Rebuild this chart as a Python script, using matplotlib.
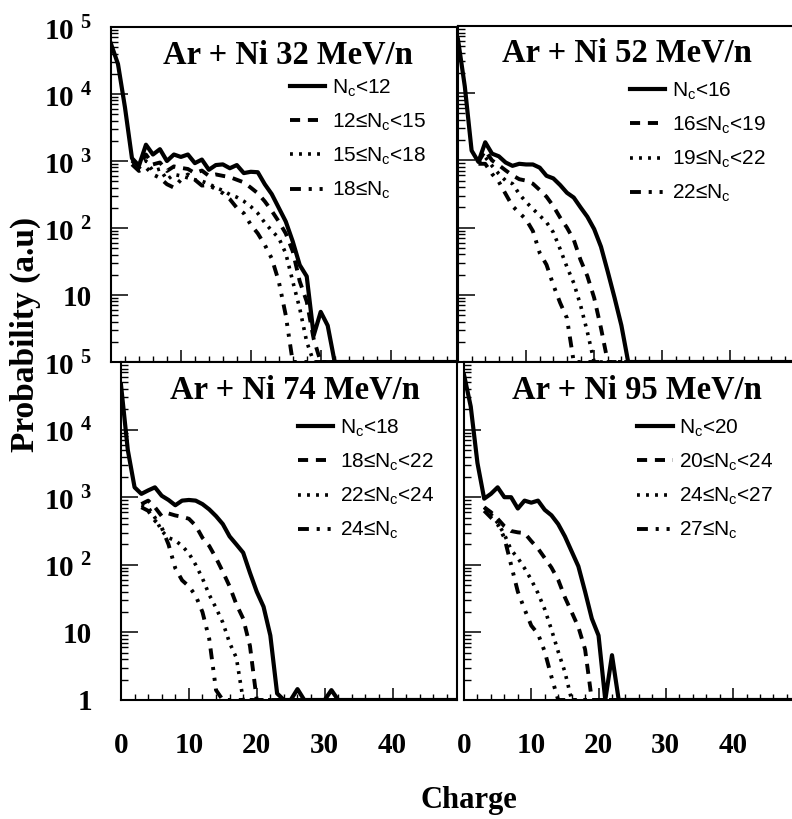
import matplotlib
matplotlib.use("Agg")
import matplotlib.pyplot as plt
import numpy as np
from matplotlib.ticker import FixedLocator, FixedFormatter, LogLocator, MultipleLocator, NullFormatter

serif = ['Liberation Serif', 'DejaVu Serif']
sans = ['Liberation Sans', 'DejaVu Sans']

# panel titles and N_c cuts
titles = ['Ar + Ni 32 MeV/n', 'Ar + Ni 52 MeV/n', 'Ar + Ni 74 MeV/n', 'Ar + Ni 95 MeV/n']
cuts = [[12, 15, 18], [16, 19, 22], [18, 22, 24], [20, 24, 27]]

# first charge of each curve (solid from 0, the others from the dip)
start = [0, 3, 3, 3]

# 32 MeV/n
p32_a = [56000, 28000, 6300, 1100, 850, 1750, 1250, 1500, 1000, 1250, 1150, 1250, 930, 1050, 740, 870,
         890, 780, 870, 660, 690, 680, 450, 320, 200, 125, 63, 28, 19, 2.5, 5.6, 3.5, 1]
p32_b = [1050, 830, 1250, 890, 950, 710, 830, 790, 760, 660, 720, 600, 630, 600, 575, 525, 480, 400,
         330, 250, 180, 125, 83, 45, 16, 8, 2.2, 1]
p32_c = [1000, 790, 1000, 710, 760, 525, 630, 600, 560, 525, 500, 457, 400, 363, 316, 288, 251, 209,
         166, 120, 91, 71, 42, 16, 6.3, 2, 1]
p32_d = [890, 710, 800, 630, 560, 450, 400, 525, 630, 525, 430, 437, 380, 331, 269, 200, 166, 112,
         83, 56, 35, 16, 5, 1]

# 52 MeV/n
p52_a = [63000, 12600, 1400, 950, 1860, 1260, 1150, 930, 830, 890, 870, 870, 780, 590, 540, 430, 330,
         280, 200, 145, 95, 52, 22, 9, 3.5, 1]
p52_b = [950, 1400, 1000, 850, 710, 600, 525, 500, 450, 363, 288, 209, 141, 100, 66, 33, 19, 9, 3.2, 1]
p52_c = [950, 1120, 830, 630, 500, 450, 316, 240, 190, 151, 120, 85, 48, 26, 15, 7, 2.8, 1]
p52_d = [890, 890, 630, 480, 316, 209, 166, 132, 89, 42, 28, 14, 7.6, 4.5, 1]

# 74 MeV/n
p74_a = [46000, 5000, 1400, 1120, 1260, 1400, 1050, 910, 760, 890, 910, 890, 790, 660, 525, 400, 263,
         200, 151, 76, 40, 24, 9, 1.25, 1, 1, 1.45, 1, 1, 1, 1, 1.4, 1]
p74_b = [790, 890, 710, 525, 575, 537, 513, 480, 380, 251, 190, 126, 79, 48, 26, 16, 6.3, 1]
p74_c = [760, 710, 500, 316, 251, 229, 190, 148, 100, 63, 36, 23, 14, 7, 4.2, 1]
p74_d = [710, 630, 450, 355, 200, 89, 59, 48, 35, 20, 8, 1.4, 1]

# 95 MeV/n
p95_a = [65000, 22000, 3200, 950, 1120, 1400, 1000, 1000, 680, 890, 830, 890, 650, 540, 400, 263, 158,
         95, 40, 16, 9, 1, 4.6, 1]
p95_b = [710, 600, 480, 372, 316, 302, 295, 224, 174, 126, 91, 60, 33, 20, 12, 5.6, 1]
p95_c = [710, 560, 417, 282, 166, 126, 89, 60, 38, 22, 11, 5.2, 2.6, 1]
p95_d = [630, 500, 400, 251, 100, 40, 22, 12.6, 9.5, 5.2, 2.2, 1]

panels = [[p32_a, p32_b, p32_c, p32_d], [p52_a, p52_b, p52_c, p52_d],
          [p74_a, p74_b, p74_c, p74_d], [p95_a, p95_b, p95_c, p95_d]]

styles = ['-', (0, (2.6, 2.0)), (0, (0.8, 1.7)), (0, (2.8, 2, 0.8, 2, 0.8, 2))]
widths = [3.0, 2.8, 2.6, 2.8]

W, H = 792, 819
# left, right, top, bottom in pixels
boxes = [(111, 457, 27, 362), (458, 795, 26, 362), (121, 457, 362, 700), (464, 797, 362, 700)]
leg_pos = [(0.517, 0.85), (0.51, 0.838), (0.527, 0.836), (0.52, 0.836)]
title_pos = [(0.51, 0.916), (0.50, 0.92), (0.518, 0.917), (0.52, 0.917)]

ylab = {1: '1', 10: '10', 100: r'$\mathregular{10}^{\ \mathregular{2}}$',
        1000: r'$\mathregular{10}^{\ \mathregular{3}}$', 10000: r'$\mathregular{10}^{\ \mathregular{4}}$',
        100000: r'$\mathregular{10}^{\ \mathregular{5}}$'}

fig = plt.figure(figsize=(W / 100, H / 100), dpi=100)

for i in range(4):
    l, r, t, b = boxes[i]
    ax = fig.add_axes([l / W, 1 - b / H, (r - l) / W, (b - t) / H])
    ax.set_yscale('log')
    ax.set_ylim(1, 1e5)
    ax.set_xlim(0, 49.5)

    c = cuts[i]
    labels = [r'$\mathregular{N_c}$<%d' % c[0],
              r'%d≤$\mathregular{N_c}$<%d' % (c[0], c[1]),
              r'%d≤$\mathregular{N_c}$<%d' % (c[1], c[2]),
              r'%d≤$\mathregular{N_c}$' % c[2]]
    for k in range(4):
        p = panels[i][k]
        z = np.arange(start[k], start[k] + len(p))
        z = np.append(z, 49.5)
        p = np.append(p, 1)
        ax.plot(z, p, color='black', linestyle=styles[k], lw=widths[k], label=labels[k],
                solid_joinstyle='round', dash_capstyle='butt')

    for s in ax.spines.values():
        s.set_linewidth(1.5)

    ax.xaxis.set_major_locator(MultipleLocator(10))
    ax.xaxis.set_minor_locator(MultipleLocator(2))
    ax.yaxis.set_major_locator(FixedLocator([1, 10, 100, 1000, 10000, 100000]))
    ax.yaxis.set_minor_locator(LogLocator(base=10, subs=np.arange(2, 10)))
    ax.yaxis.set_minor_formatter(NullFormatter())
    ax.tick_params(axis='x', which='major', direction='in', length=9, width=1.1, top=False)
    ax.tick_params(axis='x', which='minor', direction='in', length=4, width=1.0, top=False)
    ax.tick_params(axis='y', which='major', direction='in', length=12, width=1.1, right=False)
    ax.tick_params(axis='y', which='minor', direction='in', length=5, width=1.0, right=False)

    if i in (0, 2):
        ticks = [1, 10, 100, 1000, 10000, 100000]
        labs = [ylab[v] for v in ticks]
        if i == 0:
            labs[0] = ''
        ax.yaxis.set_major_formatter(FixedFormatter(labs))
        ax.tick_params(axis='y', which='major', pad=14 if i == 0 else 21)
        for tl in ax.get_yticklabels():
            tl.set_fontfamily(serif)
            tl.set_fontweight('bold')
            tl.set_fontsize(21)
    else:
        ax.yaxis.set_major_formatter(NullFormatter())

    if i >= 2:
        ax.tick_params(axis='x', which='major', pad=23)
        for tl in ax.get_xticklabels():
            tl.set_fontfamily(serif)
            tl.set_fontweight('bold')
            tl.set_fontsize(21)
    else:
        ax.xaxis.set_major_formatter(NullFormatter())

    ax.text(title_pos[i][0], title_pos[i][1], titles[i], transform=ax.transAxes, ha='center',
            va='center', fontfamily=serif, fontweight='bold', fontsize=23.5)

    ax.legend(loc='upper left', bbox_to_anchor=leg_pos[i], frameon=False, borderpad=0,
              borderaxespad=0, handlelength=1.7, handletextpad=0.3, labelspacing=0.62,
              prop={'family': sans, 'size': 15})

fig.text(0.032, 0.592, 'Probability (a.u)', rotation=90, ha='center', va='center',
         fontfamily=serif, fontweight='bold', fontsize=24)
fig.text(469 / W, 0.023, 'Charge', ha='center', va='center',
         fontfamily=serif, fontweight='bold', fontsize=22)

fig.savefig('out.png', dpi=100)
